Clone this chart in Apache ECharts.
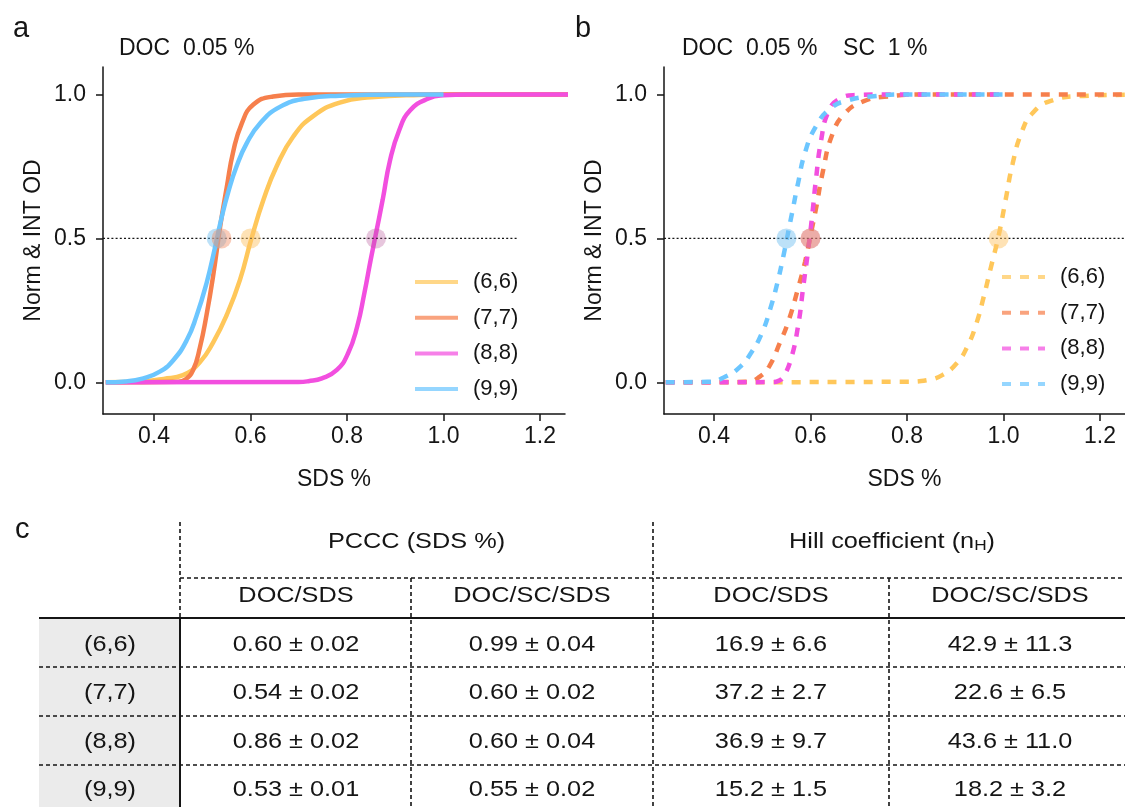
<!DOCTYPE html>
<html><head><meta charset="utf-8">
<script src="https://cdn.jsdelivr.net/npm/echarts@6/dist/echarts.min.js"></script>
<style>html,body{margin:0;padding:0;background:#fff}#c{width:1125px;height:807px}</style>
</head><body><div id="c"></div>
<script>
// ---------- data ----------
const seriesNames = ['(6,6)', '(7,7)', '(8,8)', '(9,9)'];
const xTicks = [0.4, 0.6, 0.8, 1.0, 1.2];
const yTicks = [0.0, 0.5, 1.0];
const halfLevel = 0.5;
const refLineAEnd = 1.154;

// panel a : DOC 0.05 %  (x = SDS %, y = Norm & INT OD)
const curveA66 = [[0.30,0.0],[0.38,0.004],[0.42,0.012],[0.46,0.025],[0.495,0.07],[0.523,0.14],[0.551,0.235],[0.578,0.355],[0.602,0.5],[0.627,0.635],[0.654,0.75],[0.689,0.855],[0.73,0.925],[0.785,0.972],[0.85,0.99],[0.95,0.998],[1.05,1.0],[1.26,1.0]];
const curveA77 = [[0.30,0.0],[0.45,0.002],[0.465,0.01],[0.481,0.043],[0.495,0.12],[0.509,0.235],[0.523,0.375],[0.537,0.54],[0.551,0.68],[0.564,0.80],[0.582,0.90],[0.606,0.965],[0.647,0.993],[0.70,1.0],[1.26,1.0]];
const curveA88 = [[0.30,0.0],[0.70,0.001],[0.72,0.004],[0.748,0.014],[0.779,0.043],[0.802,0.10],[0.821,0.193],[0.836,0.31],[0.849,0.425],[0.858,0.5],[0.874,0.635],[0.889,0.77],[0.908,0.875],[0.931,0.945],[0.969,0.986],[1.0,0.997],[1.05,1.0],[1.26,1.0]];
const curveA99 = [[0.30,0.0],[0.34,0.003],[0.378,0.014],[0.412,0.037],[0.44,0.077],[0.468,0.147],[0.488,0.23],[0.509,0.345],[0.526,0.465],[0.54,0.572],[0.554,0.662],[0.571,0.75],[0.592,0.83],[0.62,0.9],[0.661,0.957],[0.716,0.986],[0.785,0.996],[0.9,1.0],[1.0,1.0]];

// panel b : DOC 0.05 %  SC 1 %
const curveB66 = [[0.30,0.0],[0.80,0.002],[0.843,0.008],[0.873,0.025],[0.903,0.066],[0.925,0.124],[0.944,0.205],[0.959,0.297],[0.974,0.40],[0.99,0.51],[1.004,0.63],[1.019,0.76],[1.038,0.87],[1.06,0.935],[1.098,0.978],[1.165,0.995],[1.30,1.0]];
const curveB77 = [[0.30,0.0],[0.47,0.002],[0.495,0.02],[0.514,0.054],[0.536,0.135],[0.555,0.216],[0.574,0.325],[0.589,0.42],[0.60,0.51],[0.611,0.60],[0.626,0.735],[0.645,0.86],[0.671,0.934],[0.708,0.975],[0.753,0.992],[0.85,1.0],[1.30,1.0]];
const curveB88 = [[0.30,0.0],[0.52,0.001],[0.535,0.006],[0.544,0.02],[0.559,0.078],[0.574,0.193],[0.585,0.332],[0.596,0.471],[0.604,0.587],[0.611,0.70],[0.622,0.84],[0.637,0.94],[0.66,0.985],[0.693,0.998],[0.75,1.0],[1.0,1.0]];
const curveB99 = [[0.30,0.0],[0.39,0.002],[0.424,0.02],[0.454,0.054],[0.476,0.10],[0.499,0.17],[0.518,0.263],[0.532,0.35],[0.544,0.44],[0.553,0.515],[0.562,0.59],[0.574,0.69],[0.589,0.80],[0.611,0.888],[0.641,0.951],[0.678,0.98],[0.731,0.994],[0.8,1.0],[1.0,1.0]];

// table c
const pcccDocSds = [0.60, 0.54, 0.86, 0.53];
const pcccDocSdsErr = [0.02, 0.02, 0.02, 0.01];
const pcccDocScSds = [0.99, 0.60, 0.60, 0.55];
const pcccDocScSdsErr = [0.04, 0.02, 0.04, 0.02];
const hillDocSds = [16.9, 37.2, 36.9, 15.2];
const hillDocSdsErr = [6.6, 2.7, 9.7, 1.5];
const hillDocScSds = [42.9, 22.6, 43.6, 18.2];
const hillDocScSdsErr = [11.3, 6.5, 11.0, 3.2];
const colHeaders = ['DOC/SDS', 'DOC/SC/SDS', 'DOC/SDS', 'DOC/SC/SDS'];

// ---------- styles ----------
const FONT = "'Liberation Sans', Arial, sans-serif";
const INK = '#151515';
const lineColors = ['#FFC75A', '#F67F4C', '#F24FDF', '#6CC6FF'];
const circleColors = ['rgba(252,196,105,0.62)', 'rgba(242,145,105,0.58)', 'rgba(185,85,155,0.42)', 'rgba(120,195,240,0.62)'];
const circleOrder = [2, 3, 0, 1]; // drawing order of the half-point circles

const curvesA = [curveA66, curveA77, curveA88, curveA99];
const curvesB = [curveB66, curveB77, curveB88, curveB99];

const xMinA = 0.2943, xMaxA = 1.2518;
const xMinB = 0.2964, xMaxB = 1.2933;
const yMin = -0.110, yMax = 1.0955;

function xAxisCfg(gi, min, max) {
  return {
    gridIndex: gi, type: 'value', min: min, max: max,
    axisLine: { show: true, onZero: false, lineStyle: { color: INK, width: 1.5 } },
    axisTick: { show: true, length: 7, customValues: xTicks, lineStyle: { color: INK, width: 1.5 } },
    axisLabel: { customValues: xTicks, formatter: v => v.toFixed(1), fontFamily: FONT, fontSize: 23, color: INK, margin: 11 },
    splitLine: { show: false },
    name: 'SDS %', nameLocation: 'middle', nameGap: 54,
    nameTextStyle: { fontFamily: FONT, fontSize: 23, color: INK }
  };
}
function yAxisCfg(gi) {
  return {
    gridIndex: gi, type: 'value', min: yMin, max: yMax,
    axisLine: { show: true, onZero: false, lineStyle: { color: INK, width: 1.5 } },
    axisTick: { show: true, length: 7, customValues: yTicks, lineStyle: { color: INK, width: 1.5 } },
    axisLabel: { customValues: yTicks, formatter: v => v.toFixed(1), fontFamily: FONT, fontSize: 23, color: INK, margin: 17 },
    splitLine: { show: false },
    name: 'Norm & INT OD', nameLocation: 'middle', nameGap: 58, nameRotate: 90,
    nameTextStyle: { fontFamily: FONT, fontSize: 23, color: INK }
  };
}

const series = [];
curvesA.forEach((d, i) => {
  series.push({
    type: 'line', name: seriesNames[i], xAxisIndex: 0, yAxisIndex: 0, data: d,
    symbol: 'none', showSymbol: false, smooth: 0.5,
    lineStyle: { color: lineColors[i], width: 4.5 }, itemStyle: { color: lineColors[i] },
    silent: true, z: 2
  });
});
curvesB.forEach((d, i) => {
  series.push({
    type: 'line', name: 'b' + seriesNames[i], xAxisIndex: 1, yAxisIndex: 1, data: d,
    symbol: 'none', showSymbol: false, smooth: 0.5,
    lineStyle: { color: lineColors[i], width: 4.5, type: [9, 9] }, itemStyle: { color: lineColors[i] },
    silent: true, z: 2
  });
});
// 0.5 reference lines
series.push({ type: 'line', xAxisIndex: 0, yAxisIndex: 0, data: [[xMinA, halfLevel], [refLineAEnd, halfLevel]],
  symbol: 'none', lineStyle: { color: INK, width: 1.3, type: [2, 2.2] }, silent: true, z: 3 });
series.push({ type: 'line', xAxisIndex: 1, yAxisIndex: 1, data: [[xMinB, halfLevel], [xMaxB, halfLevel]],
  symbol: 'none', lineStyle: { color: INK, width: 1.3, type: [2, 2.2] }, silent: true, z: 3 });
// half-point circles
series.push({ type: 'scatter', xAxisIndex: 0, yAxisIndex: 0, symbolSize: 20, silent: true, z: 5,
  data: circleOrder.map(i => ({ value: [pcccDocSds[i], halfLevel], itemStyle: { color: circleColors[i] } })) });
series.push({ type: 'scatter', xAxisIndex: 1, yAxisIndex: 1, symbolSize: 20, silent: true, z: 5,
  data: circleOrder.map(i => ({ value: [pcccDocScSds[i], halfLevel], itemStyle: { color: circleColors[i] } })) });

function legendCfg(left, top, names) {
  return {
    orient: 'vertical', left: left, top: top, padding: 0, itemWidth: 43, itemHeight: 14, itemGap: 13.7,
    selectedMode: false, data: names,
    formatter: n => n.replace(/^b/, ''),
    textStyle: { fontFamily: FONT, fontSize: 22, color: INK, padding: [0, 0, 0, 10] },
    lineStyle: { width: 4, opacity: 0.72 },
    itemStyle: { opacity: 0 }
  };
}

// ---------- table graphics ----------
const g = [];
const DASH = [4, 3];
function hline(x1, x2, y, dashed, w) {
  g.push({ type: 'line', shape: { x1: x1, y1: y, x2: x2, y2: y }, silent: true,
    style: { stroke: INK, lineWidth: w || 1.6, lineDash: dashed ? DASH : null } });
}
function vline(x, y1, y2, dashed, w) {
  g.push({ type: 'line', shape: { x1: x, y1: y1, x2: x, y2: y2 }, silent: true,
    style: { stroke: INK, lineWidth: w || 1.6, lineDash: dashed ? DASH : null } });
}
function ttext(str, x, y, opts) {
  g.push({ type: 'text', x: x, y: y, scaleX: 1.15, silent: true,
    style: Object.assign({ text: str, fill: INK, font: '22px ' + FONT, align: 'center', verticalAlign: 'middle' }, (opts && opts.style) || {}) });
}
const tblRight = 1125;
const colX = [296, 532, 771, 1010];
const rowY = [645, 693, 741.5, 790];
g.push({ type: 'rect', shape: { x: 39, y: 619, width: 141, height: 188 }, style: { fill: '#EBEBEB' }, silent: true, z: -1 });
hline(39, tblRight, 618, false, 2.2);
vline(180, 618, 807, false, 2);
vline(180, 522, 618, true);
vline(653, 522, 807, true);
hline(180, tblRight, 578, true);
vline(411, 578, 807, true);
vline(889, 578, 807, true);
[667, 716, 765].forEach(y => hline(39, tblRight, y, true));

ttext('PCCC (SDS %)', 416.5, 542);
ttext('Hill coefficient (n{sub|H})', 892, 542, { style: { rich: { sub: { fontSize: 15, fontFamily: 'Liberation Sans', verticalAlign: 'bottom', fill: INK } } } });
colHeaders.forEach((h, i) => ttext(h, colX[i], 596));
const fmt2 = (v, e) => v.toFixed(2) + ' \u00B1 ' + e.toFixed(2);
const fmt1 = (v, e) => v.toFixed(1) + ' \u00B1 ' + e.toFixed(1);
seriesNames.forEach((n, r) => {
  ttext(n, 110, rowY[r]);
  ttext(fmt2(pcccDocSds[r], pcccDocSdsErr[r]), colX[0], rowY[r]);
  ttext(fmt2(pcccDocScSds[r], pcccDocScSdsErr[r]), colX[1], rowY[r]);
  ttext(fmt1(hillDocSds[r], hillDocSdsErr[r]), colX[2], rowY[r]);
  ttext(fmt1(hillDocScSds[r], hillDocScSdsErr[r]), colX[3], rowY[r]);
});

// panel letters & titles
function ptext(str, x, y, size) {
  g.push({ type: 'text', x: x, y: y, silent: true,
    style: { text: str, fill: INK, font: size + 'px ' + FONT, align: 'left', verticalAlign: 'middle' } });
}
ptext('a', 13, 29, 29);
ptext('b', 575, 29, 29);
ptext('c', 15, 530, 29);
ptext('DOC  0.05 %', 119, 49, 23);
ptext('DOC  0.05 %    SC  1 %', 682, 49, 23);

const chart = echarts.init(document.getElementById('c'), null, { renderer: 'canvas' });
chart.setOption({
  backgroundColor: '#fff',
  animation: false,
  grid: [
    { left: 103, top: 67, width: 462, height: 347, outerBoundsMode: 'none' },
    { left: 664, top: 67, width: 481, height: 347, outerBoundsMode: 'none' }
  ],
  xAxis: [xAxisCfg(0, xMinA, xMaxA), xAxisCfg(1, xMinB, xMaxB)],
  yAxis: [yAxisCfg(0), yAxisCfg(1)],
  legend: [legendCfg(413, 271, seriesNames), legendCfg(1000, 266, seriesNames.map(n => 'b' + n))],
  series: series,
  graphic: g
});
</script></body></html>
